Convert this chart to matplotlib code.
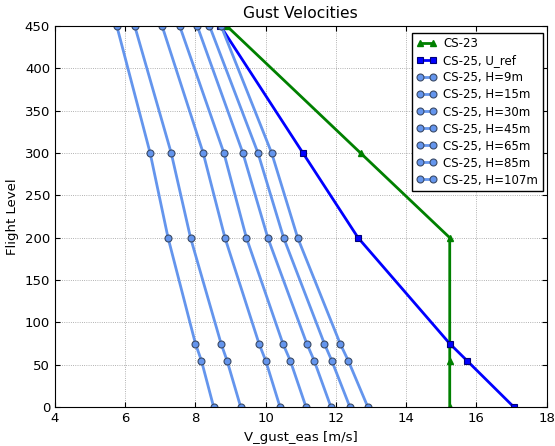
import matplotlib
matplotlib.use("Agg")
import matplotlib.pyplot as plt

plt.rcParams.update({
    "font.family": "DejaVu Sans",
    "xtick.direction": "in",
    "ytick.direction": "in",
    "xtick.top": True,
    "ytick.right": True,
})

# Flight levels (hundreds of ft) at which gust velocities are evaluated
fl_cs23 = [0, 55, 75, 200, 300, 450]
u_cs23 = [15.24, 15.24, 15.24, 15.24, 12.70, 8.89]

fl_ref = [0, 55, 75, 200, 300, 450]
u_ref = [17.07, 15.73, 15.24, 12.63, 11.06, 8.71]

fl_h = [0, 55, 75, 200, 300, 450]
gust_lengths = ["9m", "15m", "30m", "45m", "65m", "85m", "107m"]
u_h = {
    "9m":   [8.52, 8.17, 8.00, 7.22, 6.71, 5.76],
    "15m":  [9.29, 8.90, 8.73, 7.86, 7.31, 6.27],
    "30m":  [10.41, 10.00, 9.81, 8.84, 8.22, 7.05],
    "45m":  [11.15, 10.70, 10.49, 9.45, 8.81, 7.55],
    "65m":  [11.86, 11.38, 11.17, 10.06, 9.35, 8.05],
    "85m":  [12.40, 11.88, 11.67, 10.51, 9.78, 8.40],
    "107m": [12.91, 12.35, 12.12, 10.91, 10.17, 8.73],
}

fig = plt.figure(figsize=(5.55, 4.46), dpi=100)
ax = fig.add_axes([0.099, 0.087, 0.886, 0.855])

ax.plot(u_cs23, fl_cs23, color="green", lw=2, marker="^", ms=5,
        mec="green", label="CS-23")
ax.plot(u_ref, fl_ref, color="blue", lw=2, marker="s", ms=5,
        mec="#00007a", mew=0.8, label="CS-25, U_ref")
for h in gust_lengths:
    ax.plot(u_h[h], fl_h, color="#6495ED", lw=2, marker="o", ms=5,
            mfc="#6495ED", mec="#3a4a66", mew=0.8, label=f"CS-25, H={h}")

ax.set_xlim(4, 18)
ax.set_ylim(0, 450)
ax.set_xticks(range(4, 19, 2))
ax.set_yticks(range(0, 451, 50))
ax.grid(True, color="#555555", linestyle=":", linewidth=0.6, alpha=0.6)
ax.tick_params(labelsize=9.5)
ax.set_xlabel("V_gust_eas [m/s]", fontsize=9.5)
ax.set_ylabel("Flight Level", fontsize=9.5)
ax.set_title("Gust Velocities", fontsize=11.2)

leg = ax.legend(loc="upper right", bbox_to_anchor=(0.992, 0.982),
                fontsize=8.5, numpoints=2, fancybox=False, framealpha=1,
                edgecolor="black", borderaxespad=0, handlelength=1.7,
                handletextpad=0.55, labelspacing=0.34, borderpad=0.4)
leg.get_frame().set_linewidth(1.0)

fig.savefig("out.png", dpi=100)
